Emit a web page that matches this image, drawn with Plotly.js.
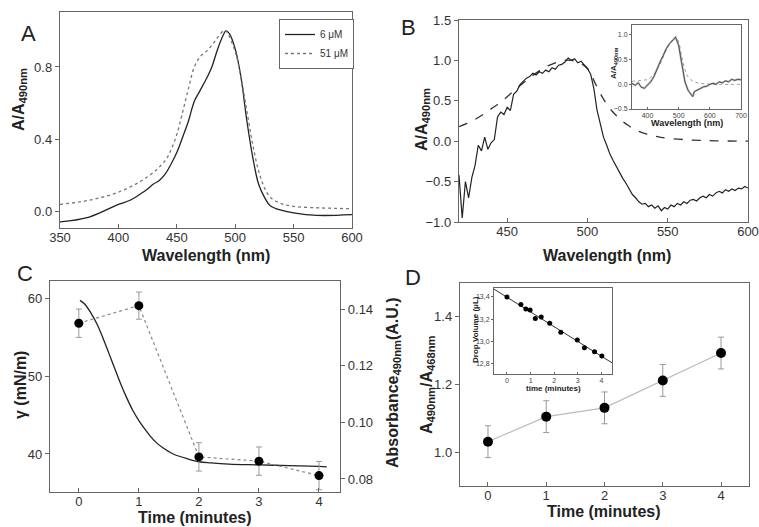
<!DOCTYPE html>
<html><head><meta charset="utf-8">
<script src="https://cdn.plot.ly/plotly-3.0.1.min.js"></script>
<style>body{margin:0;background:#fff}#c{width:759px;height:527px}</style>
</head><body><div id="c"></div>
<script>
// Panel A
const aWl6 = [350,375,400,410,420,425,430,435,440,445,450,455,460,465,470,475,480,485,490,492,495,500,505,510,515,520,525,530,540,550,570,600];
const aVal6 = [-0.06,-0.033,0.037,0.06,0.10,0.123,0.15,0.17,0.205,0.26,0.325,0.41,0.5,0.61,0.67,0.73,0.8,0.9,0.98,1.0,0.985,0.9,0.74,0.5,0.3,0.15,0.077,0.03,0.004,-0.01,-0.024,-0.02];
const aWl51 = [350,375,400,425,440,445,450,455,460,465,470,475,480,485,490,492,500,505,510,515,520,525,530,540,550,575,600];
const aVal51 = [0.037,0.06,0.105,0.19,0.28,0.34,0.425,0.55,0.68,0.8,0.857,0.885,0.92,0.965,1.0,1.0,0.885,0.74,0.555,0.37,0.224,0.13,0.077,0.04,0.026,0.017,0.013];
// Panel B main (noisy difference spectrum)
const bWl = [420,422,424,426,428,430,432,434,436,438,440,442,444,446,448,450,452,454,456,458,460,462,464,466,468,470,472,474,476,478,480,482,484,486,488,490,492,494,496,498,500,502,504,506,508,510,512,514,516,518,520,522,524,526,528,530,532,534,536,538,540,542,544,546,548,550,552,554,556,558,560,562,564,566,568,570,572,574,576,578,580,582,584,586,588,590,592,594,596,598,600];
const bVal = [-0.42,-0.95,-0.50,-0.70,-0.45,-0.30,-0.05,-0.12,0.05,-0.10,-0.02,0.02,0.30,0.36,0.33,0.42,0.38,0.58,0.62,0.70,0.74,0.78,0.80,0.84,0.82,0.86,0.84,0.88,0.86,0.91,0.89,0.94,0.95,0.98,1.03,1.00,1.02,0.97,0.99,0.94,0.90,0.83,0.65,0.38,0.22,0.05,-0.05,-0.16,-0.24,-0.32,-0.38,-0.46,-0.52,-0.60,-0.66,-0.70,-0.75,-0.78,-0.77,-0.81,-0.79,-0.83,-0.80,-0.86,-0.82,-0.84,-0.79,-0.81,-0.77,-0.79,-0.75,-0.77,-0.73,-0.72,-0.74,-0.70,-0.68,-0.70,-0.66,-0.68,-0.64,-0.62,-0.64,-0.60,-0.62,-0.59,-0.61,-0.58,-0.59,-0.56,-0.58];
const bFitWl = [420,425,430,435,440,445,450,455,460,465,470,475,480,485,490,495,500,505,510,515,520,525,530,535,540,545,550,560,570,580,600];
const bFitVal = [0.18,0.22,0.27,0.33,0.40,0.47,0.55,0.64,0.72,0.80,0.87,0.93,0.97,1.0,1.0,0.97,0.9,0.71,0.52,0.38,0.28,0.2,0.14,0.1,0.07,0.05,0.035,0.02,0.01,0.005,0.0];
// Panel B inset
const biWl = [350,360,370,380,390,400,410,420,430,440,450,460,470,480,490,500,510,520,530,540,545,550,560,570,580,590,600,610,620,630,640,650,660,670,680,690,700];
const biVal = [0.02,-0.02,0.03,-0.06,-0.08,-0.02,0.05,0.15,0.32,0.45,0.58,0.72,0.82,0.88,0.95,0.78,0.40,0.05,-0.12,-0.20,-0.25,-0.15,-0.12,-0.08,-0.05,-0.04,0.0,0.02,0.0,0.05,0.03,0.07,0.05,0.10,0.08,0.10,0.09];
const biFitWl = [350,380,400,420,440,460,480,490,500,510,520,530,550,580,700];
const biFitVal = [0.06,0.08,0.1,0.2,0.4,0.7,0.9,0.97,0.85,0.55,0.3,0.15,0.05,0.01,0.0];
// Panel C
const cTime = [0.02,0.1,0.2,0.3,0.4,0.5,0.6,0.7,0.8,0.9,1.0,1.1,1.2,1.3,1.4,1.5,1.6,1.8,2.0,2.2,2.5,3.0,3.5,4.0,4.13];
const cGamma = [59.8,59.3,58.2,56.8,55.0,53.0,51.0,49.0,47.2,45.6,44.3,43.2,42.2,41.4,40.8,40.3,39.9,39.4,39.0,38.85,38.7,38.6,38.5,38.4,38.35];
const cAbsTime = [0,1,2,3,4];
const cAbs = [0.135,0.1412,0.0878,0.0863,0.0812];
const cAbsErr = [0.005,0.0048,0.005,0.005,0.005];
// Panel D
const dTime = [0,1,2,3,4];
const dRatio = [1.031,1.105,1.131,1.212,1.293];
const dErr = [0.047,0.047,0.047,0.047,0.047];
const diTime = [0,0.59,0.8,0.98,1.2,1.45,1.81,2.28,2.98,3.28,3.71,4.02];
const diVol = [13.40,13.332,13.293,13.284,13.207,13.22,13.165,13.083,13.015,12.946,12.91,12.872];
const diFitT = [-0.55,4.45];
const diFitV = [13.47,12.81];

const W=759,H=527;
const px=x=>x/W, py=y=>1-y/H;
const F='Liberation Sans, Arial';
const axBase = {showgrid:false,zeroline:false,showline:true,linecolor:'#666',linewidth:1.2,mirror:true,ticks:'outside',ticklen:4,tickcolor:'#666',tickfont:{family:F,size:13,color:'#333'}};
const inAx = Object.assign({},axBase,{ticklen:2,linewidth:1,tickfont:{family:F,size:7,color:'#444'}});
function ax(o){return Object.assign({},axBase,o);}
function iax(o){return Object.assign({},inAx,o);}

const traces = [
 {x:aWl6,y:aVal6,xaxis:'x',yaxis:'y',mode:'lines',name:'6 μM',line:{color:'#222',width:1.3,shape:'spline'}},
 {x:aWl51,y:aVal51,xaxis:'x',yaxis:'y',mode:'lines',name:'51 μM',line:{color:'#777',width:1.3,dash:'dot',shape:'spline'}},
 {x:bFitWl,y:bFitVal,xaxis:'x2',yaxis:'y2',mode:'lines',showlegend:false,line:{color:'#333',width:1.3,dash:'dash',shape:'spline'}},
 {x:bWl,y:bVal,xaxis:'x2',yaxis:'y2',mode:'lines',showlegend:false,line:{color:'#222',width:1.2}},
 {x:biWl,y:biVal,xaxis:'x3',yaxis:'y3',mode:'lines',showlegend:false,line:{color:'#bbb',width:2}},
 {x:biFitWl,y:biFitVal,xaxis:'x3',yaxis:'y3',mode:'lines',showlegend:false,line:{color:'#999',width:1,dash:'dot',shape:'spline'}},
 {x:biWl,y:biVal,xaxis:'x3',yaxis:'y3',mode:'lines',showlegend:false,line:{color:'#333',width:0.8}},
 {x:cTime,y:cGamma,xaxis:'x4',yaxis:'y4',mode:'lines',showlegend:false,line:{color:'#222',width:1.3,shape:'spline'}},
 {x:cAbsTime,y:cAbs,xaxis:'x4',yaxis:'y5',mode:'lines+markers',showlegend:false,line:{color:'#888',width:1.2,dash:'dot'},marker:{color:'#000',size:9},error_y:{type:'data',array:cAbsErr,color:'#999',thickness:1,width:3}},
 {x:dTime,y:dRatio,xaxis:'x6',yaxis:'y6',mode:'lines+markers',showlegend:false,line:{color:'#bbb',width:1.2},marker:{color:'#000',size:10},error_y:{type:'data',array:dErr,color:'#999',thickness:1,width:3}},
 {x:diFitT,y:diFitV,xaxis:'x7',yaxis:'y7',mode:'lines',showlegend:false,line:{color:'#333',width:1}},
 {x:diTime,y:diVol,xaxis:'x7',yaxis:'y7',mode:'markers',showlegend:false,marker:{color:'#000',size:5}}
];

function ann(text,x,y,size,angle,opts){return Object.assign({text:text,xref:'paper',yref:'paper',x:px(x),y:py(y),xanchor:'center',yanchor:'middle',showarrow:false,textangle:angle||0,font:{family:F,size:size,color:'#222'}},opts||{});}

const xin = {ticks:'inside',ticklabelstandoff:-3};
const layout = {
 width:W,height:H,margin:{l:0,r:0,t:0,b:0},paper_bgcolor:'#fff',plot_bgcolor:'rgba(0,0,0,0)',
 showlegend:true,
 legend:{x:px(279),y:py(19),xanchor:'left',yanchor:'top',bordercolor:'#666',borderwidth:1,bgcolor:'#fff',font:{family:F,size:10,color:'#333'},tracegroupgap:0,itemwidth:30},
 xaxis:ax(Object.assign({domain:[px(60),px(352)],range:[350,600],dtick:50,tick0:0,anchor:'y'},xin)),
 yaxis:ax({domain:[py(228),py(12)],range:[-0.094,1.105],tickvals:[0,0.4,0.8],tickformat:'.1f',anchor:'x'}),
 xaxis2:ax(Object.assign({domain:[px(459),px(748)],range:[420,600],dtick:50,tick0:0,anchor:'y2'},xin)),
 yaxis2:ax({domain:[py(222),py(20)],range:[-1,1.5],dtick:0.5,tickformat:'.1f',anchor:'x2'}),
 xaxis3:iax({domain:[px(632),px(741)],range:[350,700],dtick:100,tick0:0,anchor:'y3',ticks:'inside'}),
 yaxis3:iax({domain:[py(109),py(25)],range:[-0.5,1.2],dtick:0.5,tickformat:'.1f',anchor:'x3'}),
 xaxis4:ax(Object.assign({domain:[px(50),px(340)],range:[-0.48,4.35],dtick:1,anchor:'y4'},xin)),
 yaxis4:ax({domain:[py(492),py(281)],range:[35.1,62.3],tickvals:[40,50,60],anchor:'x4',mirror:false}),
 yaxis5:ax({overlaying:'y4',side:'right',range:[0.0754,0.1499],tickvals:[0.08,0.10,0.12,0.14],tickformat:'.2f',anchor:'x4',mirror:false}),
 xaxis6:ax(Object.assign({domain:[px(460),px(749)],range:[-0.48,4.48],dtick:1,anchor:'y6'},xin)),
 yaxis6:ax({domain:[py(486),py(283)],range:[0.9,1.5],tickvals:[1.0,1.2,1.4],tickformat:'.1f',anchor:'x6'}),
 xaxis7:iax({domain:[px(494),px(612)],range:[-0.55,4.45],dtick:1,anchor:'y7',ticks:'inside'}),
 yaxis7:iax({domain:[py(374),py(288)],range:[12.71,13.48],tickvals:[12.8,13.0,13.2,13.4],ticktext:['12,8','13,0','13,2','13,4'],anchor:'x7'}),
 annotations:[
  ann('A',29,33,22),ann('B',409,27,22),ann('C',25,273,22),ann('D',413,277,22),
  ann('<b>Wavelength (nm)</b>',206,255,16),
  ann('<b>Wavelength (nm)</b>',607,255,16),
  ann('<b>Time (minutes)</b>',195,517,16),
  ann('<b>Time (minutes)</b>',604,511,16),
  ann('<b>A/A<sub>490nm</sub></b>',20,100,16,-90),
  ann('<b>A/A<sub>490nm</sub></b>',423,120,16,-90),
  ann('<b>γ (mN/m)</b>',20,385,16,-90),
  ann('<b>Absorbance<sub>490nm</sub>(A.U.)</b>',393,383,16,-90),
  ann('<b>A<sub>490nm</sub>/A<sub>468nm</sub></b>',427,385,16,-90),
  ann('<b>Wavelength (nm)</b>',687,123,9),
  ann('<b>A/A<sub>490nm</sub></b>',614,63,8,-90),
  ann('<b>time (minutes)</b>',553,388,8),
  ann('<b>Drop Volume (μL)</b>',475,330,8,-90)
 ]
};
Plotly.newPlot('c',traces,layout,{staticPlot:true});
</script></body></html>
